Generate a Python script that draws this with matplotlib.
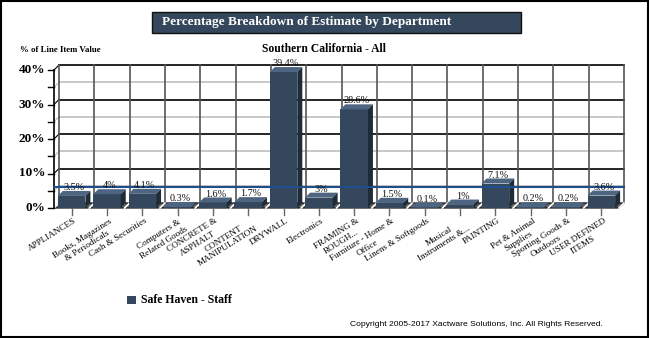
import numpy as np
import matplotlib.pyplot as plt
from matplotlib.patches import Polygon, Rectangle

# data
departments = ['APPLIANCES', 'Books, Magazines\n& Periodicals', 'Cash & Securities',
               'Computers &\nRelated Goods', 'CONCRETE &\nASPHALT', 'CONTENT\nMANIPULATION',
               'DRYWALL', 'Electronics', 'FRAMING &\nROUGH...', 'Furniture - Home &\nOffice',
               'Linens & Softgoods', 'Musical\nInstruments &...', 'PAINTING',
               'Pet & Animal\nSupplies', 'Sporting Goods &\nOutdoors', 'USER DEFINED\nITEMS']
pct_values = [3.5, 4, 4.1, 0.3, 1.6, 1.7, 39.4, 3, 28.6, 1.5, 0.1, 1, 7.1, 0.2, 0.2, 3.6]
pct_labels = ['3.5%', '4%', '4.1%', '0.3%', '1.6%', '1.7%', '39.4%', '3%', '28.6%', '1.5%',
              '0.1%', '1%', '7.1%', '0.2%', '0.2%', '3.6%']
avg_line = 6.2
series_name = 'Safe Haven - Staff'

FRONT = '#34475c'
TOP = '#4d6580'
SIDE = '#1e2b38'

W, H = 650, 338
AX_L, AX_W = 54, 565
fig = plt.figure(figsize=(6.5, 3.38), dpi=100)
ax = fig.add_axes([AX_L / W, 1 - 208 / H, AX_W / W, 138 / H])
n = len(pct_values)
ax.set_xlim(-0.5, n - 0.5)
ax.set_ylim(0, 40)
for s in ax.spines.values():
    s.set_visible(False)
ax.set_xticks([])
ax.set_yticks([])

# depth of the fake 3d in data units (~5 px)
px_x = n / AX_W
px_y = 40 / 138
dx = 5 * px_x
dy = 5 * px_y
serif = 'Liberation Serif'

# back wall grid
for v in range(5, 41, 5):
    col = 'black' if v % 10 == 0 else '#bdbdbd'
    ax.plot([-0.5 + dx, n - 0.5 + dx], [v + dy, v + dy], color=col, lw=1.2, clip_on=False, zorder=1)
    ax.plot([-0.5, -0.5 + dx], [v, v + dy], color=col, lw=0.8, clip_on=False, zorder=1)
for k in range(n + 1):
    ax.plot([-0.5 + k + dx] * 2, [dy, 40 + dy], color='#555555', lw=1.2, clip_on=False, zorder=1)

# floor
floor = Polygon([(-0.5, 0), (n - 0.5, 0), (n - 0.5 + dx, dy), (-0.5 + dx, dy)],
                closed=True, facecolor='#666666', edgecolor='black', lw=0.8, clip_on=False, zorder=2)
ax.add_patch(floor)
for k in range(n + 1):
    ax.plot([-0.5 + k, -0.5 + k + dx], [0, dy], color='white', lw=1.2, clip_on=False, zorder=2)

# y axis with ticks
ax.plot([-0.5, -0.5], [0, 40], color='black', lw=1.2, clip_on=False, zorder=3)
for v in range(0, 41, 5):
    ax.plot([-0.5 - 6 * px_x, -0.5], [v, v], color='black', lw=1, clip_on=False, zorder=3)
    if v % 10 == 0:
        ax.text(-0.5 - 9 * px_x, v, f'{v}%', ha='right', va='center', fontsize=9.5,
                fontweight='bold', family=serif)

# x ticks
for i in range(n):
    ax.plot([i, i], [0, -7 * px_y], color='#666666', lw=1, clip_on=False, zorder=3)
    ax.text(i + 2 * px_x, -9 * px_y, departments[i], rotation=32, ha='right', va='top',
            rotation_mode='anchor', multialignment='center', fontsize=6.6, family=serif,
            color='black')

# bars
bw = 0.78
for i, v in enumerate(pct_values):
    x0, x1 = i - bw / 2, i + bw / 2
    ax.add_patch(Rectangle((x0, 0), bw, v, facecolor=FRONT, edgecolor='none', zorder=4, clip_on=False))
    ax.add_patch(Polygon([(x0, v), (x1, v), (x1 + dx, v + dy), (x0 + dx, v + dy)],
                         facecolor=TOP, edgecolor='none', zorder=4, clip_on=False))
    ax.add_patch(Polygon([(x1, 0), (x1 + dx, dy), (x1 + dx, v + dy), (x1, v)],
                         facecolor=SIDE, edgecolor='none', zorder=4, clip_on=False))
    ax.text(i + dx / 2, v + dy - 0.3, pct_labels[i], ha='center', va='bottom', fontsize=7.3,
            family=serif, color='#111111', zorder=6)

# average line
ax.plot([-0.5, n - 0.5 + dx], [avg_line, avg_line], color='#1f4e8c', lw=1.5, clip_on=False, zorder=5)

# title box
fig.patches.append(Rectangle((152 / W, 1 - 33 / H), 369 / W, 21 / H, transform=fig.transFigure,
                             facecolor='#34475c', edgecolor='#111111', lw=1))
fig.text(162 / W, 1 - 22.5 / H, 'Percentage Breakdown of Estimate by Department', ha='left',
         va='center', color='white', fontsize=9.5, fontweight='bold', family=serif)
fig.text(324 / W, 1 - 49 / H, 'Southern California - All', ha='center', va='center',
         fontsize=8.4, fontweight='bold', family=serif)
fig.text(20 / W, 1 - 50 / H, '% of Line Item Value', ha='left', va='center', fontsize=6.3,
         fontweight='bold', family=serif)

# legend
fig.patches.append(Rectangle((127 / W, 1 - 304 / H), 9 / W, 8 / H, transform=fig.transFigure,
                             facecolor=FRONT, edgecolor='none'))
fig.text(141 / W, 1 - 300 / H, series_name, ha='left', va='center', fontsize=8.5,
         fontweight='bold', family=serif)

fig.text(603 / W, 1 - 324 / H, 'Copyright 2005-2017 Xactware Solutions, Inc. All Rights Reserved.',
         ha='right', va='center', fontsize=6.1, family='Liberation Sans')

# outer frame
fig.patches.append(Rectangle((1 / W, 1 / H), 647 / W, 336 / H, transform=fig.transFigure,
                             facecolor='none', edgecolor='black', lw=1.5))

fig.savefig('out.png', dpi=100)
